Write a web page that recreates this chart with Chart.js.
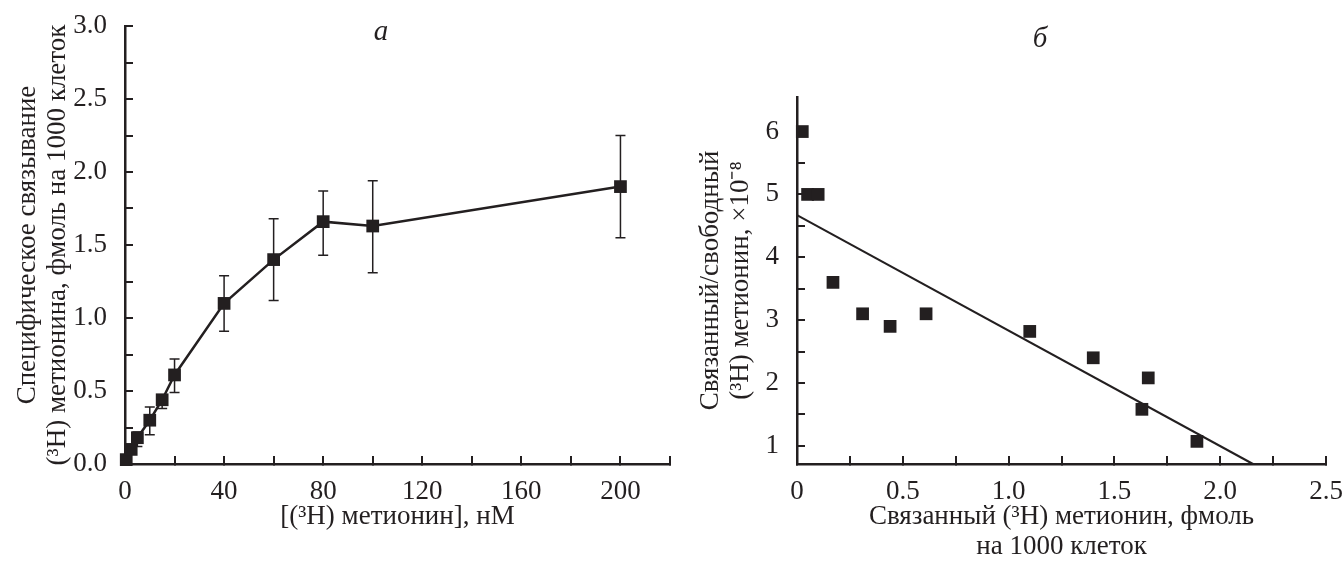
<!DOCTYPE html>
<html>
<head>
<meta charset="utf-8">
<script src="https://cdn.jsdelivr.net/npm/chart.js@4"></script>
<style>
  body { margin: 0; background: #fff; }
  .panel { position: absolute; top: 0; height: 563px; }
  .letter { position: absolute; font: italic 29px "Liberation Serif", serif; color: #231f20; transform: translate(-50%, -50%); }
</style>
</head>
<body>
<div class="panel" style="left:0;width:680px"><canvas id="chart-a"></canvas></div>
<div class="panel" style="left:680px;width:664px"><canvas id="chart-b"></canvas></div>
<div class="letter" style="left:381px;top:30px">а</div>
<div class="letter" style="left:1040px;top:37px">б</div>
<script>
// панель а: насыщение
const concX = [0.5, 2.5, 5, 10, 15, 20, 40, 60, 80, 100, 200];
const binding = [0.03, 0.1, 0.18, 0.3, 0.44, 0.61, 1.1, 1.4, 1.66, 1.63, 1.9];
const errLow = [null, null, 0.12, 0.2, 0.38, 0.49, 0.91, 1.12, 1.43, 1.31, 1.55];
const errHigh = [null, null, 0.22, 0.39, 0.47, 0.72, 1.29, 1.68, 1.87, 1.94, 2.25];

// панель б: Скэтчард
const boundX = [0.025, 0.05, 0.1, 0.17, 0.31, 0.44, 0.61, 1.1, 1.4, 1.63, 1.66, 1.89];
const ratioY = [6.0, 5.0, 5.0, 3.6, 3.1, 2.9, 3.1, 2.82, 2.4, 1.58, 2.08, 1.07];
const fitX = [0, 2.155];
const fitY = [4.67, 0.71];
const ticksBY = [1, 1.5, 2, 2.5, 3, 3.5, 4, 4.5, 5, 5.5, 6];

const ink = '#231f20';
const serif = '"Liberation Serif", serif';

const errorBars = {
    id: 'errorBars',
    beforeDatasetsDraw(chart) {
        const { ctx, scales: { x, y } } = chart;
        ctx.save();
        ctx.strokeStyle = ink;
        ctx.lineWidth = 1.5;
        concX.forEach((v, i) => {
            if (errLow[i] == null) return;
            const px = x.getPixelForValue(v);
            const lo = y.getPixelForValue(errLow[i]);
            const hi = y.getPixelForValue(errHigh[i]);
            ctx.beginPath();
            ctx.moveTo(px, lo); ctx.lineTo(px, hi);
            ctx.moveTo(px - 5, lo); ctx.lineTo(px + 5, lo);
            ctx.moveTo(px - 5, hi); ctx.lineTo(px + 5, hi);
            ctx.stroke();
        });
        ctx.restore();
    }
};

const isHalf = v => Math.abs(v * 2 - Math.round(v * 2)) < 1e-6;

function axis(min, max, step, label, titleText, titlePad, size, tickPad) {
    return {
        type: 'linear',
        min: min,
        max: max,
        border: { color: ink, width: 2.5 },
        grid: { drawOnChartArea: false, color: ink, lineWidth: 2, tickLength: -8 },
        ticks: {
            stepSize: step,
            autoSkip: false,
            maxRotation: 0,
            padding: tickPad,
            color: ink,
            font: { family: serif, size: 27 },
            callback: label
        },
        title: {
            display: true,
            text: titleText,
            color: ink,
            font: { family: serif, size: 27, lineHeight: '30px' },
            padding: titlePad
        },
        afterFit: s => {
            size(s);
            // без лишних отступов под крайние подписи
            s.paddingLeft = s.paddingRight = s.paddingTop = s.paddingBottom = 0;
        }
    };
}

window.onload = function() {
    Chart.defaults.animation = false;

    const xa = axis(0, 220, 20, v => (v % 40 === 0 && v <= 200) ? String(v) : '',
        '[(³H) метионин], нМ', { top: 0, bottom: 31 }, s => { s.height = 99; }, 19.5);
    const ya = axis(0, 3, 0.25, v => isHalf(v) ? v.toFixed(1) : '',
        ['Специфическое связывание', '(³H) метионина, фмоль на 1000 клеток'], { top: 13, bottom: 0 }, s => { s.width = 125; }, 26);

    new Chart(document.getElementById('chart-a'), {
        type: 'scatter',
        data: {
            datasets: [{
                data: concX.map((v, i) => ({ x: v, y: binding[i] })),
                showLine: true,
                borderColor: ink,
                borderWidth: 2.5,
                backgroundColor: ink,
                pointStyle: 'rect',
                pointRadius: 9,
                pointBorderWidth: 0,
                clip: false
            }]
        },
        options: {
            responsive: true,
            maintainAspectRatio: false,
            layout: { padding: { top: 26, right: 10, left: 0, bottom: 0 } },
            plugins: { legend: { display: false }, tooltip: { enabled: false } },
            scales: { x: xa, y: ya }
        },
        plugins: [errorBars]
    });

    const xb = axis(0, 2.5, 0.25, v => {
        if (!isHalf(v)) return '';
        return v === 0 ? '0' : v.toFixed(1);
    }, ['Связанный (³H) метионин, фмоль', 'на 1000 клеток'], { top: 0, bottom: 1 }, s => { s.height = 99; }, 19.5);
    const yb = axis(0.71, 6.55, 0.5, v => Number.isInteger(v) ? String(v) : '',
        ['Связанный/свободный', '(³H) метионин, ×10⁻⁸'], { top: 16, bottom: 0 }, s => { s.width = 117; }, 26);
    yb.afterBuildTicks = s => { s.ticks = ticksBY.map(v => ({ value: v })); };

    new Chart(document.getElementById('chart-b'), {
        type: 'scatter',
        data: {
            datasets: [{
                data: boundX.map((v, i) => ({ x: v, y: ratioY[i] })),
                backgroundColor: ink,
                pointStyle: 'rect',
                pointRadius: 9,
                pointBorderWidth: 0,
                clip: false
            }, {
                data: fitX.map((v, i) => ({ x: v, y: fitY[i] })),
                showLine: true,
                borderColor: ink,
                borderWidth: 2,
                pointRadius: 0,
                clip: false
            }]
        },
        options: {
            responsive: true,
            maintainAspectRatio: false,
            layout: { padding: { top: 97, right: 18, left: 0, bottom: 0 } },
            plugins: { legend: { display: false }, tooltip: { enabled: false } },
            scales: { x: xb, y: yb }
        }
    });
};
</script>
</body>
</html>
